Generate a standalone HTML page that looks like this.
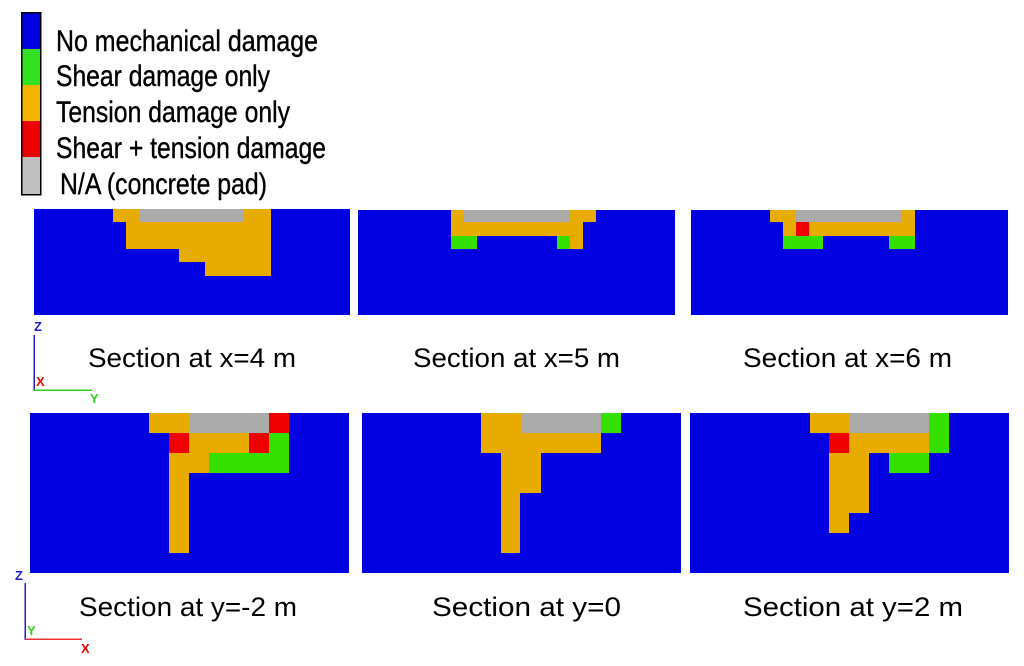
<!DOCTYPE html>
<html><head><meta charset="utf-8"><style>html,body{margin:0;padding:0;background:#fff}svg{display:block}</style></head>
<body>
<svg width="1024" height="666" viewBox="0 0 1024 666" xmlns="http://www.w3.org/2000/svg" shape-rendering="crispEdges">
<rect width="1024" height="666" fill="#fff"/>
<!-- legend -->
<rect x="21" y="12" width="20" height="37" fill="#0000e0"/>
<rect x="21" y="49" width="20" height="36" fill="#33e022"/>
<rect x="21" y="85" width="20" height="36" fill="#f5b400"/>
<rect x="21" y="121" width="20" height="36" fill="#ee0000"/>
<rect x="21" y="157" width="20" height="38" fill="#c0c0c0"/>
<rect x="21.5" y="12.5" width="19" height="182" fill="none" stroke="#000" stroke-width="1.5"/>
<g font-family="Liberation Sans, sans-serif" font-size="30" fill="#000" stroke="#000" stroke-width="0.4">
<text x="56" y="51" textLength="262" lengthAdjust="spacingAndGlyphs">No mechanical damage</text>
<text x="56" y="86" textLength="214" lengthAdjust="spacingAndGlyphs">Shear damage only</text>
<text x="56" y="122" textLength="234" lengthAdjust="spacingAndGlyphs">Tension damage only</text>
<text x="56" y="158" textLength="270" lengthAdjust="spacingAndGlyphs">Shear + tension damage</text>
<text x="60" y="194" textLength="207" lengthAdjust="spacingAndGlyphs">N/A (concrete pad)</text>
</g>
<!-- top panel 1 -->
<rect x="34" y="209" width="316" height="106" fill="#0000e0"/>
<rect x="113" y="209" width="158" height="13" fill="#e8ac00"/>
<rect x="139" y="209" width="105" height="13" fill="#ababab"/>
<rect x="126" y="222" width="145" height="27" fill="#e8ac00"/>
<rect x="179" y="249" width="92" height="13" fill="#e8ac00"/>
<rect x="205" y="262" width="66" height="14" fill="#e8ac00"/>
<!-- top panel 2 -->
<rect x="358" y="210" width="317" height="105" fill="#0000e0"/>
<rect x="451" y="210" width="145" height="12" fill="#e8ac00"/>
<rect x="464" y="210" width="106" height="12" fill="#ababab"/>
<rect x="451" y="222" width="132" height="14" fill="#e8ac00"/>
<rect x="451" y="236" width="26" height="13" fill="#33e000"/>
<rect x="557" y="236" width="13" height="13" fill="#33e000"/>
<rect x="570" y="236" width="13" height="13" fill="#e8ac00"/>
<!-- top panel 3 -->
<rect x="691" y="210" width="317" height="105" fill="#0000e0"/>
<rect x="770" y="210" width="145" height="12" fill="#e8ac00"/>
<rect x="796" y="210" width="106" height="12" fill="#ababab"/>
<rect x="783" y="222" width="132" height="14" fill="#e8ac00"/>
<rect x="796" y="222" width="13" height="14" fill="#ee0000"/>
<rect x="783" y="236" width="40" height="13" fill="#33e000"/>
<rect x="889" y="236" width="26" height="13" fill="#33e000"/>
<!-- bottom panel 1 -->
<rect x="30" y="413" width="319" height="160" fill="#0000e0"/>
<rect x="149" y="413" width="40" height="20" fill="#e8ac00"/>
<rect x="189" y="413" width="80" height="20" fill="#ababab"/>
<rect x="269" y="413" width="20" height="20" fill="#ee0000"/>
<rect x="169" y="433" width="20" height="20" fill="#ee0000"/>
<rect x="189" y="433" width="60" height="20" fill="#e8ac00"/>
<rect x="249" y="433" width="20" height="20" fill="#ee0000"/>
<rect x="269" y="433" width="20" height="20" fill="#33e000"/>
<rect x="169" y="453" width="40" height="20" fill="#e8ac00"/>
<rect x="209" y="453" width="80" height="20" fill="#33e000"/>
<rect x="169" y="473" width="20" height="80" fill="#e8ac00"/>
<!-- bottom panel 2 -->
<rect x="362" y="413" width="319" height="160" fill="#0000e0"/>
<rect x="481" y="413" width="40" height="20" fill="#e8ac00"/>
<rect x="521" y="413" width="80" height="20" fill="#ababab"/>
<rect x="601" y="413" width="20" height="20" fill="#33e000"/>
<rect x="481" y="433" width="120" height="20" fill="#e8ac00"/>
<rect x="501" y="453" width="40" height="40" fill="#e8ac00"/>
<rect x="501" y="493" width="19" height="60" fill="#e8ac00"/>
<!-- bottom panel 3 -->
<rect x="690" y="413" width="319" height="160" fill="#0000e0"/>
<rect x="810" y="413" width="40" height="20" fill="#e8ac00"/>
<rect x="850" y="413" width="79" height="20" fill="#ababab"/>
<rect x="929" y="413" width="20" height="40" fill="#33e000"/>
<rect x="829" y="433" width="20" height="20" fill="#ee0000"/>
<rect x="849" y="433" width="80" height="20" fill="#e8ac00"/>
<rect x="829" y="453" width="40" height="60" fill="#e8ac00"/>
<rect x="889" y="453" width="40" height="20" fill="#33e000"/>
<rect x="829" y="513" width="20" height="20" fill="#e8ac00"/>
<!-- captions -->
<g font-family="Liberation Sans, sans-serif" font-size="27" fill="#000">
<text x="88" y="367" textLength="208" lengthAdjust="spacingAndGlyphs">Section at x=4 m</text>
<text x="413" y="367" textLength="207" lengthAdjust="spacingAndGlyphs">Section at x=5 m</text>
<text x="743" y="367" textLength="209" lengthAdjust="spacingAndGlyphs">Section at x=6 m</text>
<text x="79" y="616" textLength="218" lengthAdjust="spacingAndGlyphs">Section at y=-2 m</text>
<text x="432" y="616" textLength="189" lengthAdjust="spacingAndGlyphs">Section at y=0</text>
<text x="743" y="616" textLength="220" lengthAdjust="spacingAndGlyphs">Section at y=2 m</text>
</g>
<!-- axes -->
<g font-family="Liberation Sans, sans-serif" font-weight="bold" font-size="13">
<line x1="34" y1="335" x2="34" y2="391" stroke="#2020c0" stroke-width="1.5"/>
<line x1="34" y1="390" x2="92" y2="390" stroke="#33d022" stroke-width="1.5"/>
<text x="34" y="331" fill="#2020d0">Z</text>
<text x="36" y="386" fill="#ee0000">X</text>
<text x="90" y="403" fill="#33d022">Y</text>
<line x1="25" y1="583" x2="25" y2="640" stroke="#2020c0" stroke-width="1.5"/>
<line x1="25" y1="639" x2="82" y2="639" stroke="#ee3030" stroke-width="1.5"/>
<text x="15" y="580" fill="#2020d0">Z</text>
<text x="27" y="635" fill="#33d022">Y</text>
<text x="81" y="653" fill="#ee0000">X</text>
</g>
</svg>
</body></html>
